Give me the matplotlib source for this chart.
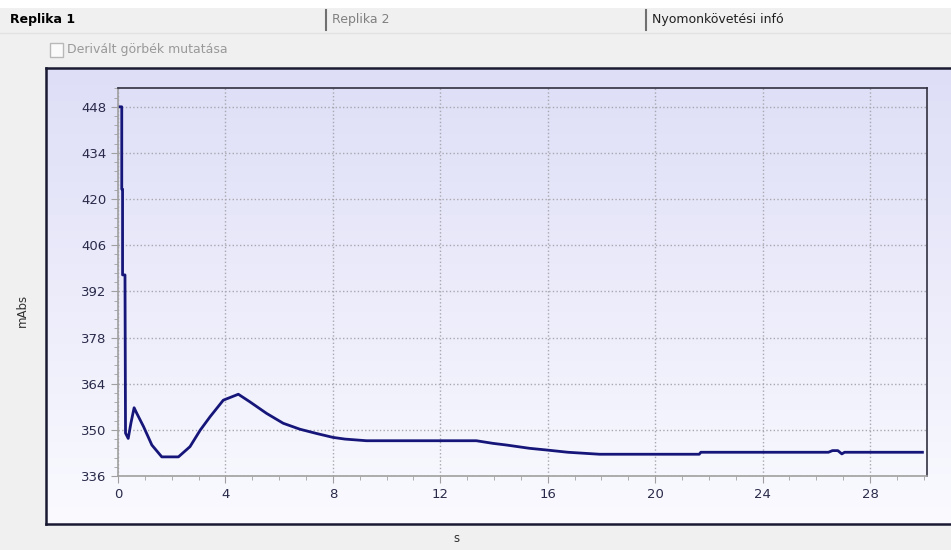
import numpy as np
import matplotlib
matplotlib.use('Agg')
import matplotlib.pyplot as plt
from matplotlib.patches import Rectangle
from matplotlib.ticker import MultipleLocator

# data
t = [0.04, 0.14, 0.14, 0.17, 0.17, 0.26, 0.28, 0.38, 0.48, 0.6,
     0.7, 0.95, 1.26, 1.63, 2.25, 2.68, 3.06, 3.43, 3.92, 4.48,
     4.91, 5.53, 6.15, 6.77, 7.39, 8.01, 8.45, 9.25, 13.34, 13.96,
     14.46, 15.32, 15.94, 16.75, 17.93, 21.64, 21.7, 26.45, 26.6, 26.8,
     26.95, 27.05, 29.95]
mabs = [448, 448, 423, 423, 397, 397, 349, 347.4, 352, 356.7,
        355, 351, 345.4, 341.8, 341.8, 344.9, 349.9, 354, 359, 360.8,
        358.5, 355, 352, 350.2, 348.9, 347.7, 347.2, 346.7, 346.7, 345.9,
        345.4, 344.4, 343.9, 343.2, 342.6, 342.6, 343.2, 343.2, 343.7, 343.7,
        342.7, 343.2, 343.2]
x_ticks = [0, 4, 8, 12, 16, 20, 24, 28]
y_ticks = [336, 350, 364, 378, 392, 406, 420, 434, 448]
tabs = ['Replika 1', 'Replika 2', 'Nyomonkövetési infó']

W, H = 951, 550
fig = plt.figure(figsize=(W/100, H/100), dpi=100, facecolor='#f0f0f0')

def fx(px):
    return px / W

def fy(py):
    return 1 - py / H

# top strip and tabs
fig.patches.append(Rectangle((0, fy(8)), 1, 8/H, transform=fig.transFigure,
                             facecolor='white', edgecolor='none'))
fig.patches.append(Rectangle((0, fy(33)), 1, 25/H, transform=fig.transFigure,
                             facecolor='#f0f0f0', edgecolor='none'))
fig.add_artist(plt.Line2D([0, 1], [fy(33), fy(33)], color='#e2e2e2', lw=1))
fig.text(fx(10), fy(20), tabs[0], fontsize=9, fontweight='bold', color='black', va='center')
fig.text(fx(332), fy(20), tabs[1], fontsize=9, color='#808080', va='center')
fig.text(fx(652), fy(20), tabs[2], fontsize=9, color='#202020', va='center')
for sx in [326, 646]:
    fig.add_artist(plt.Line2D([fx(sx), fx(sx)], [fy(10), fy(30)], color='#707070', lw=1.5))

# checkbox
fig.patches.append(Rectangle((fx(50), fy(57)), 13/W, 14/H, transform=fig.transFigure,
                             facecolor='#fafafa', edgecolor='#b8b8b8', lw=1))
fig.text(fx(67), fy(50), 'Derivált görbék mutatása', fontsize=9, color='#999999', va='center')

# chart panel with gradient
bg = fig.add_axes([fx(46), fy(524), 1 - fx(46) + 0.01, (524 - 68)/H])
grad = np.linspace(0, 1, 256).reshape(-1, 1)
top_c = np.array([222, 222, 247]) / 255
bot_c = np.array([250, 250, 255]) / 255
img = top_c[None, None, :] * (1 - grad[:, :, None]) + bot_c[None, None, :] * grad[:, :, None]
bg.imshow(img, aspect='auto', extent=[0, 1, 0, 1])
bg.set_xticks([])
bg.set_yticks([])
for side in ['left', 'top', 'bottom']:
    bg.spines[side].set_color('#1a1a33')
    bg.spines[side].set_linewidth(1.8)
bg.spines['right'].set_visible(False)

ax = fig.add_axes([fx(118), fy(476), (927 - 118)/W, (476 - 88)/H])
ax.set_facecolor('none')
ax.plot(t, mabs, color='#16167a', lw=2)
ax.set_xlim(0, 30.12)
ax.set_ylim(336, 453.7)
ax.set_xticks(x_ticks)
ax.set_yticks(y_ticks)
ax.xaxis.set_minor_locator(MultipleLocator(1))
ax.yaxis.set_minor_locator(MultipleLocator(2.8))
ax.grid(True, which='major', linestyle=':', color='#a8a8b0', lw=1)
ax.tick_params(which='major', length=5, color='#a0a0a0', labelcolor='#2a2a4a', labelsize=9.5)
ax.tick_params(which='minor', length=3, color='#a0a0a0')
ax.spines['left'].set_color('#a0a0a0')
ax.spines['bottom'].set_color('#a0a0a0')
ax.spines['top'].set_color('#303040')
ax.spines['right'].set_color('#303040')
for s in ax.spines.values():
    s.set_linewidth(1.2)

fig.text(fx(22), fy(310), 'mAbs', rotation=90, fontsize=8.5, color='#303030',
         ha='center', va='center')
fig.text(fx(456), fy(538), 's', fontsize=8.5, color='#303030', ha='center', va='center')

fig.savefig('out.png', dpi=100, facecolor=fig.get_facecolor())
